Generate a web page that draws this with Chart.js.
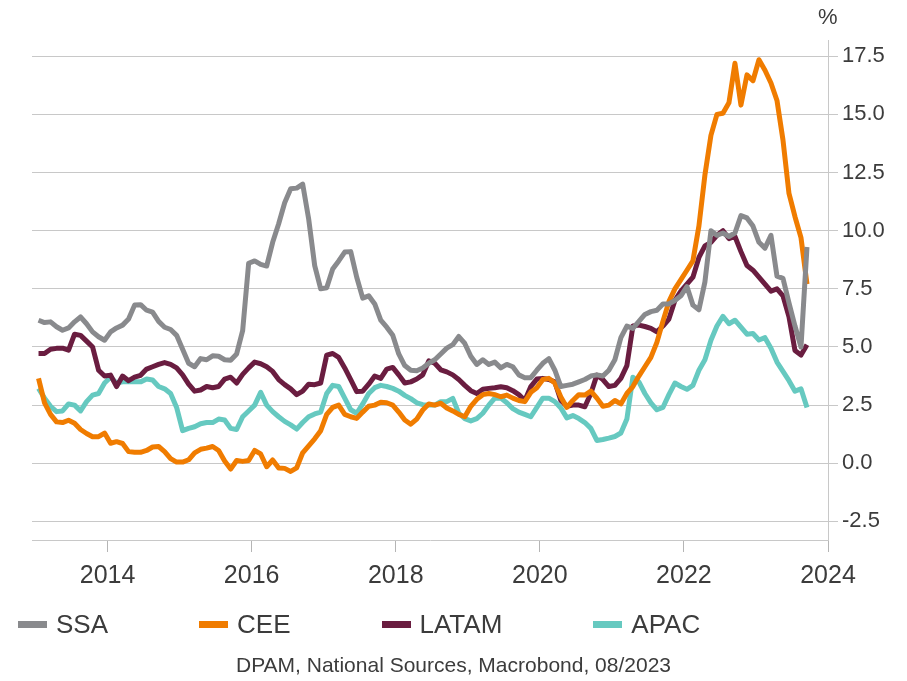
<!DOCTYPE html>
<html>
<head>
<meta charset="utf-8">
<script src="https://cdn.jsdelivr.net/npm/chart.js@4.4.1/dist/chart.umd.min.js"></script>
<style>
  html, body { margin: 0; padding: 0; background: #fff; }
  #wrap { position: relative; width: 907px; height: 681px; font-family: "Liberation Sans", Arial, sans-serif; color: #3c3c3c; }
  #chart { position: absolute; left: 0; top: 0; }
  #unit { position: absolute; left: 818px; top: 4px; font-size: 22px; }
  #legend { position: absolute; left: 18px; top: 609px; display: flex; gap: 91px; font-size: 26px; }
  #legend .item { display: flex; align-items: center; }
  #legend .mark { width: 29px; height: 7px; margin-right: 9px; }
  #source { position: absolute; left: 0; width: 907px; top: 653px; text-align: center; font-size: 21px; }
</style>
</head>
<body>
<div id="wrap">
  <canvas id="chart" width="907" height="681"></canvas>
  <div id="unit">%</div>
  <div id="legend"></div>
  <div id="source">DPAM, National Sources, Macrobond, 08/2023</div>
</div>
<script>
// monthly series, Jan 2013 .. Sep 2023 (129 points)
const startYear = 2013;

const ssa = [
  6.15, 6.05, 6.08, 5.87, 5.72, 5.82, 6.08, 6.29, 6.0, 5.65, 5.44, 5.29,
  5.65, 5.82, 5.94, 6.2, 6.8, 6.82, 6.58, 6.5, 6.1, 5.85, 5.75, 5.5,
  4.9, 4.3, 4.15, 4.5, 4.45, 4.62, 4.6, 4.45, 4.43, 4.7, 5.7, 8.6,
  8.7, 8.55, 8.48, 9.5, 10.3, 11.2, 11.8, 11.83, 12.0, 10.5, 8.5, 7.5,
  7.55, 8.35, 8.7, 9.08, 9.1, 8.0, 7.1, 7.2, 6.85, 6.15, 5.85, 5.5,
  4.7, 4.2, 4.0, 3.98, 4.1, 4.3, 4.45, 4.7, 4.95, 5.1, 5.45, 5.15,
  4.6, 4.25, 4.45, 4.25, 4.35, 4.1, 4.25, 4.15, 3.8, 3.68, 3.68, 4.0,
  4.3, 4.5, 4.0, 3.3, 3.35, 3.4, 3.5, 3.6, 3.75, 3.8, 3.75, 4.0,
  4.45, 5.4, 5.9, 5.8, 6.1, 6.4, 6.52, 6.58, 6.85, 6.85, 7.0, 7.2,
  7.6, 6.8, 6.6, 7.8, 10.0, 9.8, 9.9, 9.75, 9.9, 10.65, 10.55, 10.2,
  9.5, 9.25, 9.8, 8.05, 7.95, 6.9, 5.9, 5.0, 9.3
];

const cee = [
  3.65, 2.6, 2.1, 1.78, 1.75, 1.85, 1.72, 1.45, 1.28, 1.14, 1.14, 1.3,
  0.86, 0.93, 0.85, 0.5, 0.47, 0.47, 0.55, 0.7, 0.72, 0.5, 0.2, 0.05,
  0.05, 0.15, 0.45, 0.6, 0.65, 0.72, 0.55, 0.1, -0.25, 0.12, 0.08, 0.12,
  0.55, 0.4, -0.15, 0.14, -0.2, -0.22, -0.35, -0.2, 0.45, 0.75, 1.05, 1.4,
  2.1, 2.4, 2.5, 2.1, 2.0, 1.93, 2.2, 2.45, 2.5, 2.62, 2.6, 2.5,
  2.2, 1.86, 1.68, 1.9, 2.29, 2.55, 2.5, 2.58, 2.38, 2.25, 2.1, 2.0,
  2.45, 2.75, 2.95, 3.0, 2.95, 2.86, 2.93, 2.8, 2.7, 2.65, 3.05, 3.25,
  3.6, 3.65, 3.45, 2.85, 2.4, 2.7, 2.95, 2.93, 3.1, 2.8, 2.45, 2.5,
  2.7, 2.55, 3.0, 3.3, 3.75, 4.15, 4.55, 5.2, 6.1, 6.95, 7.5, 7.9,
  8.3, 8.7, 10.2, 12.4, 14.1, 15.0, 15.05, 15.5, 17.2, 15.4, 16.7, 16.45,
  17.35, 16.9, 16.35, 15.6, 13.9, 11.6, 10.6, 9.7, 7.7
];

const latam = [
  4.72, 4.72, 4.9, 4.94, 4.95, 4.86, 5.55, 5.5, 5.25, 5.0, 4.0, 3.75,
  3.79, 3.3, 3.75, 3.55, 3.7, 3.78, 4.05, 4.15, 4.25, 4.33, 4.25, 4.1,
  3.8, 3.4, 3.1, 3.15, 3.3, 3.25, 3.3, 3.62, 3.7, 3.45, 3.82, 4.1,
  4.35, 4.28, 4.15, 3.95, 3.6, 3.38, 3.2, 2.95, 3.1, 3.4, 3.38, 3.45,
  4.65, 4.72, 4.55, 4.1, 3.6, 3.08, 3.1, 3.4, 3.75, 3.65, 4.05, 4.12,
  3.8, 3.45, 3.5, 3.62, 3.8, 4.4, 4.3, 4.02, 3.93, 3.8, 3.6, 3.35,
  3.12, 3.0, 3.18, 3.22, 3.25, 3.29, 3.25, 3.12, 2.95, 2.7, 3.3, 3.62,
  3.65, 3.6, 3.5, 2.7, 2.45, 2.5, 2.5, 2.43, 3.0, 3.79, 3.6, 3.3,
  3.35, 3.65, 4.2, 5.9, 5.94, 5.88, 5.8, 5.65, 5.9, 6.2, 7.0, 7.4,
  7.7, 8.0, 8.85, 9.35, 9.5, 9.8, 10.0, 9.66, 9.75, 9.1, 8.5, 8.3,
  8.0, 7.7, 7.4, 7.5, 7.2, 6.3, 4.85, 4.65, 5.1
];

const apac = [
  3.22, 2.8, 2.45, 2.22, 2.25, 2.55, 2.5, 2.25, 2.65, 2.93, 3.0, 3.45,
  3.7, 3.45, 3.5, 3.5, 3.5, 3.5, 3.62, 3.58, 3.3, 3.2, 3.0, 2.4,
  1.4, 1.5, 1.57, 1.7, 1.75, 1.75, 1.9, 1.86, 1.5, 1.45, 2.0, 2.25,
  2.5, 3.05, 2.5, 2.22, 2.0, 1.8, 1.65, 1.47, 1.75, 2.0, 2.12, 2.2,
  3.0, 3.35, 3.3, 2.8, 2.3, 2.15, 2.55, 3.0, 3.25, 3.35, 3.3, 3.22,
  3.1, 2.92, 2.78, 2.6, 2.52, 2.5, 2.5, 2.65, 2.65, 2.79, 2.15, 1.92,
  1.82, 1.92, 2.15, 2.5, 2.8, 2.8, 2.6, 2.35, 2.2, 2.1, 2.0, 2.4,
  2.8, 2.8, 2.65, 2.38, 1.95, 2.05, 1.92, 1.75, 1.5, 0.98, 1.02, 1.08,
  1.15, 1.3, 1.9, 3.7, 3.5, 3.0, 2.6, 2.3, 2.4, 2.95, 3.45, 3.3,
  3.18, 3.35, 4.0, 4.45, 5.29, 5.9, 6.32, 6.0, 6.15, 5.85, 5.55, 5.58,
  5.3, 5.4, 4.95, 4.35, 3.95, 3.55, 3.1, 3.2, 2.4
];

const seriesNames = ['SSA', 'CEE', 'LATAM', 'APAC'];
const seriesColors = ['#898a8d', '#f07c00', '#6a1d40', '#66c9c0'];
const yearTicks = [2014, 2016, 2018, 2020, 2022, 2024];
const valueTicks = [-2.5, 0, 2.5, 5, 7.5, 10, 12.5, 15, 17.5];

// month index -> decimal year (mid month)
const toPoints = arr => arr.map((v, i) => ({ x: startYear + (i + 0.5) / 12, y: v }));

const textColor = '#3c3c3c';
const fontFamily = '"Liberation Sans", Arial, sans-serif';

// legend in html
const legendEl = document.getElementById('legend');
seriesNames.forEach((name, i) => {
    const item = document.createElement('div');
    item.className = 'item';
    item.innerHTML = '<span class="mark" style="background:' + seriesColors[i] + '"></span><span>' + name + '</span>';
    legendEl.appendChild(item);
});

const allSeries = [ssa, cee, latam, apac];

new Chart(document.getElementById('chart'), {
    type: 'line',
    data: {
        datasets: allSeries.map((arr, i) => ({
            label: seriesNames[i],
            data: toPoints(arr),
            borderColor: seriesColors[i],
            borderWidth: 5,
            pointRadius: 0,
            tension: 0,
            borderJoinStyle: 'round',
            fill: false
        }))
    },
    options: {
        responsive: false,
        animation: false,
        layout: { padding: { left: 32, top: 40, right: 0, bottom: 81 } },
        plugins: { legend: { display: false }, tooltip: { enabled: false } },
        scales: {
            x: {
                type: 'linear',
                min: 2012.951,
                max: 2024,
                afterBuildTicks: s => { s.ticks = yearTicks.map(v => ({ value: v })); },
                afterFit: s => { s.height = 60; },
                grid: { drawOnChartArea: false, drawTicks: true, tickLength: 12, color: '#b5b5b5' },
                border: { display: true, color: '#c8c8c8' },
                ticks: {
                    color: textColor,
                    font: { family: fontFamily, size: 25 },
                    padding: 9,
                    maxRotation: 0,
                    callback: v => String(v)
                }
            },
            y: {
                position: 'right',
                min: -3.3,
                max: 18.2,
                afterBuildTicks: s => { s.ticks = valueTicks.map(v => ({ value: v })); },
                afterFit: s => { s.width = 79; },
                grid: { color: '#c8c8c8', drawTicks: true, tickLength: 10 },
                border: { display: true, color: '#c8c8c8' },
                ticks: {
                    color: textColor,
                    font: { family: fontFamily, size: 22 },
                    padding: 4,
                    callback: v => v.toFixed(1)
                }
            }
        }
    }
});
</script>
</body>
</html>
